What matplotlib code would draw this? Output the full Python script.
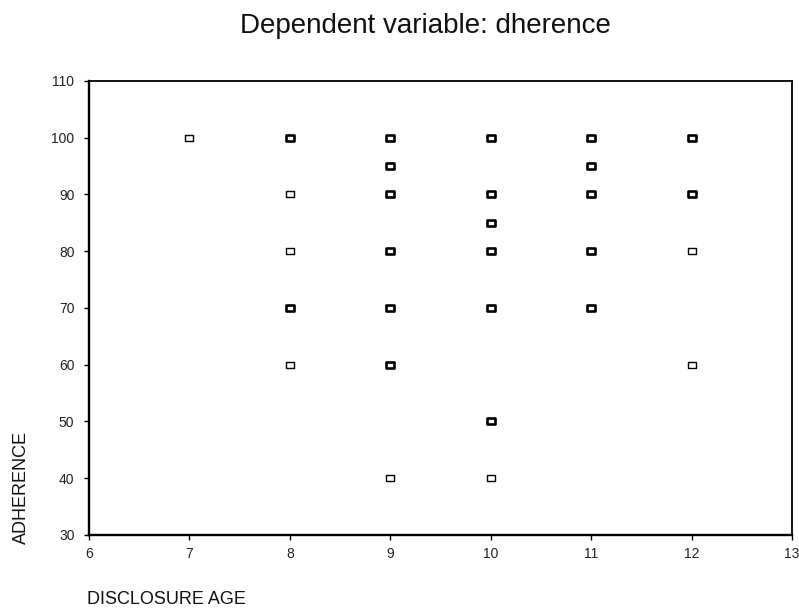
import matplotlib
matplotlib.use("Agg")
import matplotlib.pyplot as plt
from matplotlib.path import Path

# Data: disclosure age vs adherence; counts >1 drawn with bold marker edge (overlapping points)
x_age = [7, 8, 8, 8, 8, 8,
         9, 9, 9, 9, 9, 9, 9,
         10, 10, 10, 10, 10, 10, 10,
         11, 11, 11, 11, 11,
         12, 12, 12, 12]
y_adh = [100, 100, 90, 80, 70, 60,
         100, 95, 90, 80, 70, 60, 40,
         100, 90, 85, 80, 70, 50, 40,
         100, 95, 90, 80, 70,
         100, 90, 80, 60]
counts = [1, 2, 1, 1, 2, 1,
          2, 2, 2, 2, 2, 2, 1,
          2, 2, 2, 2, 2, 2, 1,
          2, 2, 2, 2, 2,
          2, 2, 1, 1]

x_ticks = [6, 7, 8, 9, 10, 11, 12, 13]
y_ticks = [30, 40, 50, 60, 70, 80, 90, 100, 110]

rect_marker = Path([(-1, -0.72), (1, -0.72), (1, 0.72), (-1, 0.72), (-1, -0.72)],
                   [Path.MOVETO, Path.LINETO, Path.LINETO, Path.LINETO, Path.CLOSEPOLY])

fig = plt.figure(figsize=(7.99, 6.11), dpi=100)
ax = fig.add_axes([89/799, 1-535/611, (792-89)/799, (535-81)/611])

for xi, yi, c in zip(x_age, y_adh, counts):
    ax.plot([xi], [yi], marker=rect_marker, markersize=6.2, markerfacecolor='white',
            markeredgecolor='black', markeredgewidth=1.0 if c == 1 else 1.9,
            linestyle='none', clip_on=False)

ax.set_xlim(6, 13)
ax.set_ylim(30, 110)
ax.set_xticks(x_ticks)
ax.set_yticks(y_ticks)
ax.tick_params(direction='out', length=3.5, width=1, labelsize=10)
ax.tick_params(axis='y', pad=7)
ax.tick_params(axis='x', pad=5)
for lbl in ax.get_xticklabels() + ax.get_yticklabels():
    lbl.set_fontfamily('Liberation Sans')
    lbl.set_color('#222222')
for s in ['left', 'bottom']:
    ax.spines[s].set_linewidth(1.7)
for s in ['top', 'right']:
    ax.spines[s].set_linewidth(1.3)

fig.text(425/799, 1-26/611, 'Dependent variable: dherence', ha='center', va='center',
         fontsize=20, family='Liberation Sans', color='#111111')
fig.text(21/799, 1-487/611, 'ADHERENCE', rotation=90, ha='center', va='center',
         fontsize=13, family='Liberation Sans', color='#111111')
fig.text(87/799, 1-600/611, 'DISCLOSURE AGE', ha='left', va='center',
         fontsize=13, family='Liberation Sans', color='#111111')

fig.savefig('out.png', dpi=100)
